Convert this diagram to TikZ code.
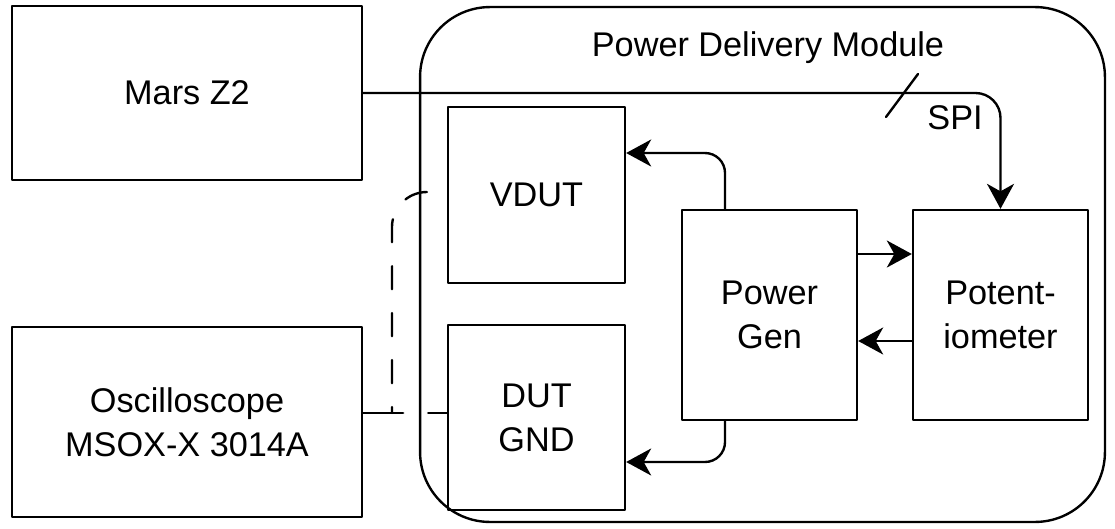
\documentclass[tikz,border=0pt]{standalone}
\usepackage{fontspec}
\setmainfont{Liberation Sans}
\usetikzlibrary{arrows.meta}

\begin{document}
\begin{tikzpicture}[
			x=0.02cm, y=-0.02cm,
			line cap=round,
			line join=round,
			font=\fontsize{19.5}{25}\selectfont,
			block/.style={draw, line width=1.35pt, align=center, inner sep=0pt},
			flow/.style={line width=1.35pt, -{Stealth[length=0.5cm, width=0.54cm, inset=0.15cm]}},
			probe/.style={line width=1.35pt, dash pattern=on 0.46cm off 0.48cm}
			]
			\useasboundingbox (0,0) rectangle (1115,528);
			
			% Outside equipment
			\node[block, minimum width=7cm, minimum height=3.48cm] (mars) at (187,93) {Mars Z2};
			\node[block, minimum width=7cm, minimum height=3.8cm] (osc) at (187,422) {Oscilloscope\\MSOX-X 3014A};
			
			% Module frame and title
			\node[draw, line width=1.35pt, rounded corners=1.4cm, minimum width=13.7cm, minimum height=10.3cm] (pdm) at (762.5,264.5) {};
			\node (title) at (768,48) {Power Delivery Module};
			
			% Blocks inside the module
			\node[block, minimum width=3.54cm, minimum height=3.52cm] (vdut) at (536.5,195) {VDUT};
			\node[block, minimum width=3.54cm, minimum height=3.7cm] (gnd) at (536.5,417.5) {DUT\\GND};
			\node[block, minimum width=3.5cm, minimum height=4.2cm] (gen) at (769.5,315) {Power\\Gen};
			\node[block, minimum width=3.5cm, minimum height=4.2cm] (pot) at (1000.5,315) {Potent-\\iometer};
			
			% SPI bus
			\draw[flow, rounded corners=0.5cm] (mars.east) -| (pot.north);
			\coordinate (bus) at (902,95);
			\draw[line width=1.35pt] ([shift={(-16,22)}]bus) -- ([shift={(16,-21)}]bus);
			\node (spi) at (955,118) {SPI};
			
			% Supply lines
			\draw[flow, rounded corners=0.4cm] ([xshift=-0.89cm]gen.north) |- ([yshift=0.84cm]vdut.east);
			\draw[flow, rounded corners=0.4cm] ([xshift=-0.89cm]gen.south) |- ([yshift=-0.89cm]gnd.east);
			\draw[flow] ([yshift=1.22cm]gen.east) -- ([yshift=1.22cm]pot.west);
			\draw[flow] ([yshift=-0.52cm]pot.west) -- ([yshift=-0.52cm]gen.east);
			
			% Probe wiring
			\coordinate (tap) at (392,413);
			\draw[line width=1.35pt, dash pattern=on 0.8cm off 0.5cm] (osc.east |- tap) -- (gnd.west |- tap);
			\draw[probe, dash phase=0.54cm, rounded corners=0.7cm] ([yshift=0.06cm]vdut.west) -| (tap);
		\end{tikzpicture}
\end{document}
